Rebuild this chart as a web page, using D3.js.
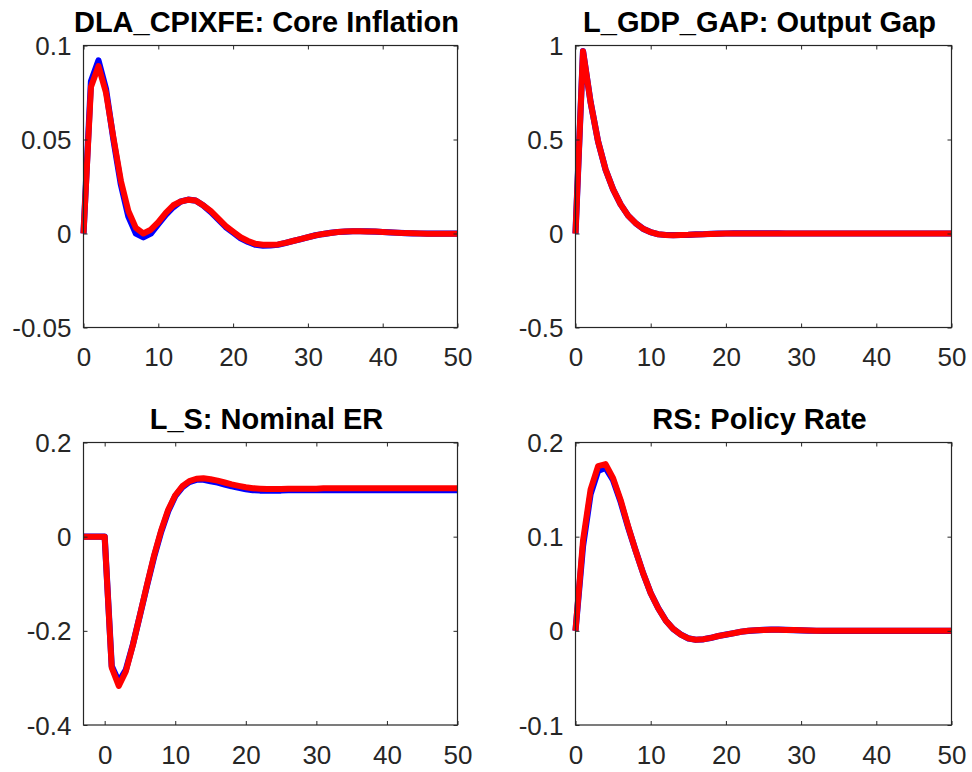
<!DOCTYPE html>
<html>
<head>
<meta charset="utf-8">
<script src="https://cdn.jsdelivr.net/npm/d3@7"></script>
<style>
  html, body { margin: 0; padding: 0; background: #ffffff; }
  svg { display: block; }
  text { font-family: "Liberation Sans", Arial, Helvetica, sans-serif; }
</style>
</head>
<body>
<svg id="chart" width="972" height="772"></svg>
<script>
// ---------- data ----------
const periods   = d3.range(0, 51);      // 0..50
const periodsER = d3.range(-3, 51);     // -3..50

const titles = [
  "DLA_CPIXFE: Core Inflation",
  "L_GDP_GAP: Output Gap",
  "L_S: Nominal ER",
  "RS: Policy Rate"
];

const xTicks = [0, 10, 20, 30, 40, 50];
const yTicksInfl = [-0.05, 0, 0.05, 0.1];
const yTicksGap  = [-0.5, 0, 0.5, 1];
const yTicksER   = [-0.4, -0.2, 0, 0.2];
const yTicksRS   = [-0.1, 0, 0.1, 0.2];

// Core inflation (blue = first scenario, red = second scenario)
const inflBlue = [0, 0.081, 0.092, 0.077, 0.050, 0.026, 0.009, 0.000, -0.002, 0.000,
  0.005, 0.010, 0.014, 0.017, 0.018, 0.0175, 0.015, 0.0115, 0.0075, 0.0035,
  0.0005, -0.0025, -0.0045, -0.006, -0.0065, -0.0063, -0.006, -0.005, -0.004, -0.003,
  -0.002, -0.001, -0.0003, 0.0003, 0.0008, 0.001, 0.0012, 0.0012, 0.0011, 0.001,
  0.0008, 0.0006, 0.0004, 0.0002, 0.0001, 0, -0.0001, -0.0001, -0.0001, -0.0001, -0.0001];
const inflRed = [0, 0.078, 0.089, 0.075, 0.051, 0.028, 0.012, 0.003, 0.000, 0.002,
  0.006, 0.011, 0.015, 0.017, 0.018, 0.0175, 0.015, 0.012, 0.008, 0.004,
  0.001, -0.002, -0.004, -0.0055, -0.006, -0.006, -0.0058, -0.005, -0.004, -0.003,
  -0.002, -0.001, -0.0003, 0.0003, 0.0008, 0.001, 0.0012, 0.0012, 0.0011, 0.001,
  0.0008, 0.0006, 0.0004, 0.0002, 0.0001, 0, -0.0001, -0.0001, -0.0001, -0.0001, -0.0001];

// Output gap
const gapBlue = [0, 0.97, 0.70, 0.49, 0.34, 0.235, 0.155, 0.095, 0.055, 0.025,
  0.007, -0.004, -0.008, -0.009, -0.008, -0.007, -0.005, -0.004, -0.002, -0.001,
  0, 0.0005, 0.0005, 0.0005, 0.0005, 0.0004, 0.0003, 0.0002, 0.0001, 0,
  0, 0, 0, 0, 0, 0, 0, 0, 0, 0,
  0, 0, 0, 0, 0, 0, 0, 0, 0, 0, 0];
const gapRed = [0, 0.97, 0.70, 0.49, 0.34, 0.235, 0.155, 0.095, 0.055, 0.025,
  0.007, -0.004, -0.008, -0.009, -0.008, -0.007, -0.005, -0.004, -0.002, -0.001,
  0, 0.0005, 0.0005, 0.0005, 0.0005, 0.0004, 0.0003, 0.0002, 0.0001, 0,
  0, 0, 0, 0, 0, 0, 0, 0, 0, 0,
  0, 0, 0, 0, 0, 0, 0, 0, 0, 0, 0];

// Nominal exchange rate (starts at -3)
const erBlue = [0, 0, 0, 0, -0.275, -0.308, -0.283, -0.229, -0.167, -0.104,
  -0.043, 0.010, 0.054, 0.086, 0.105, 0.116, 0.121, 0.121, 0.118, 0.115,
  0.111, 0.107, 0.104, 0.101, 0.099, 0.098, 0.098, 0.098, 0.098, 0.099,
  0.099, 0.099, 0.099, 0.099, 0.099, 0.099, 0.099, 0.099, 0.099, 0.099,
  0.099, 0.099, 0.099, 0.099, 0.099, 0.099, 0.099, 0.099, 0.099, 0.099,
  0.099, 0.099, 0.099, 0.099];
const erRed = [0, 0, 0, 0, -0.278, -0.317, -0.286, -0.230, -0.166, -0.102,
  -0.040, 0.013, 0.057, 0.088, 0.107, 0.118, 0.123, 0.124, 0.122, 0.119,
  0.115, 0.111, 0.108, 0.105, 0.103, 0.102, 0.101, 0.101, 0.101, 0.102,
  0.102, 0.102, 0.102, 0.102, 0.103, 0.103, 0.103, 0.103, 0.103, 0.103,
  0.103, 0.103, 0.103, 0.103, 0.103, 0.103, 0.103, 0.103, 0.103, 0.103,
  0.103, 0.103, 0.103, 0.103];

// Policy rate
const rsBlue = [0, 0.090, 0.145, 0.170, 0.173, 0.160, 0.137, 0.110, 0.085, 0.061,
  0.040, 0.024, 0.011, 0.002, -0.004, -0.008, -0.0095, -0.009, -0.0075, -0.0055,
  -0.004, -0.0025, -0.001, 0, 0.0005, 0.001, 0.0012, 0.0012, 0.001, 0.0008,
  0.0005, 0.0003, 0.0001, 0, 0, 0, 0, 0, 0, 0,
  0, 0, 0, 0, 0, 0, 0, 0, 0, 0, 0];
const rsRed = [0, 0.096, 0.150, 0.175, 0.177, 0.162, 0.139, 0.111, 0.085, 0.061,
  0.040, 0.024, 0.011, 0.002, -0.004, -0.008, -0.0095, -0.009, -0.0075, -0.0055,
  -0.004, -0.0025, -0.001, 0, 0.0005, 0.001, 0.0012, 0.0012, 0.001, 0.0008,
  0.0005, 0.0003, 0.0001, 0, 0, 0, 0, 0, 0, 0,
  0, 0, 0, 0, 0, 0, 0, 0, 0, 0, 0];

// ---------- layout ----------
const panels = [
  { title: titles[0], x: periods,   xDom: [0, 50],  yDom: [-0.05, 0.1], yTicks: yTicksInfl, blue: inflBlue, red: inflRed,
    box: { l: 83.5, r: 457.5, t: 45.5, b: 327.5 } },
  { title: titles[1], x: periods,   xDom: [0, 50],  yDom: [-0.5, 1],    yTicks: yTicksGap,  blue: gapBlue,  red: gapRed,
    box: { l: 575.5, r: 951.5, t: 45.5, b: 327.5 } },
  { title: titles[2], x: periodsER, xDom: [-3, 50], yDom: [-0.4, 0.2],  yTicks: yTicksER,   blue: erBlue,   red: erRed,
    box: { l: 83.5, r: 457.5, t: 442.5, b: 725 } },
  { title: titles[3], x: periods,   xDom: [0, 50],  yDom: [-0.1, 0.2],  yTicks: yTicksRS,   blue: rsBlue,   red: rsRed,
    box: { l: 575.5, r: 951.5, t: 442.5, b: 725 } }
];

const axisColor = "#262626";
const svg = d3.select("#chart");
const fmt = v => String(v);

panels.forEach(p => {
  const bx = p.box;
  const x = d3.scaleLinear().domain(p.xDom).range([bx.l, bx.r]);
  const y = d3.scaleLinear().domain(p.yDom).range([bx.b, bx.t]);
  const g = svg.append("g");

  // lines
  const line = d3.line().x((d, i) => x(p.x[i])).y(d => y(d));
  g.append("path").datum(p.blue).attr("d", line)
    .attr("fill", "none").attr("stroke", "#0000ff").attr("stroke-width", 6.2)
    .attr("stroke-linejoin", "round").attr("stroke-linecap", "butt");
  g.append("path").datum(p.red).attr("d", line)
    .attr("fill", "none").attr("stroke", "#ff0000").attr("stroke-width", 6)
    .attr("stroke-linejoin", "round").attr("stroke-linecap", "butt");

  // axes
  const axB = g.append("g").attr("transform", `translate(0,${bx.b})`)
    .call(d3.axisBottom(x).tickValues(xTicks).tickFormat(fmt).tickSize(-4).tickSizeOuter(0).tickPadding(20.5));
  const axT = g.append("g").attr("transform", `translate(0,${bx.t})`)
    .call(d3.axisTop(x).tickValues(xTicks).tickFormat("").tickSize(-4).tickSizeOuter(0));
  const axL = g.append("g").attr("transform", `translate(${bx.l},0)`)
    .call(d3.axisLeft(y).tickValues(p.yTicks).tickFormat(fmt).tickSize(-4).tickSizeOuter(0).tickPadding(12));
  const axR = g.append("g").attr("transform", `translate(${bx.r},0)`)
    .call(d3.axisRight(y).tickValues(p.yTicks).tickFormat("").tickSize(-4).tickSizeOuter(0));

  [axB, axT, axL, axR].forEach(a => {
    a.select(".domain").remove();
    a.selectAll("line").attr("stroke", axisColor).attr("stroke-width", 1);
    a.selectAll("text").attr("fill", axisColor).style("font-size", "26px")
      .style("font-family", "'Liberation Sans', Arial, Helvetica, sans-serif");
  });
  axL.selectAll("text").attr("dy", "0.35em");

  g.append("rect")
    .attr("x", bx.l).attr("y", bx.t)
    .attr("width", bx.r - bx.l).attr("height", bx.b - bx.t)
    .attr("fill", "none").attr("stroke", axisColor).attr("stroke-width", 1.2);

  // title
  g.append("text")
    .attr("x", (bx.l + bx.r) / 2 - 4)
    .attr("y", bx.t - 14)
    .attr("text-anchor", "middle")
    .attr("fill", "#000000")
    .style("font-size", "29px")
    .style("font-weight", "bold")
    .text(p.title);
});
</script>
</body>
</html>
